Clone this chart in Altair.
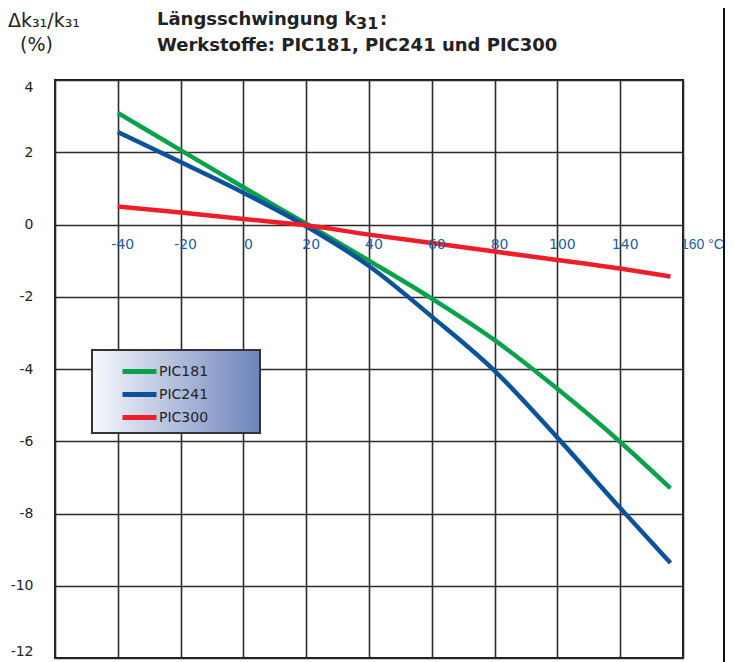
import altair as alt
import pandas as pd

# ---- data ----
temps = [-40, -20, 0, 20, 40, 60, 80, 100, 120, 136]
pic181 = [3.09, 2.06, 1.03, 0.02, -1.0, -2.05, -3.2, -4.55, -6.02, -7.3]
pic241 = [2.56, 1.73, 0.88, -0.05, -1.15, -2.55, -4.05, -5.9, -7.85, -9.37]
pic300 = [0.5, 0.33, 0.15, -0.02, -0.28, -0.51, -0.75, -0.98, -1.22, -1.44]
series = ["PIC181", "PIC241", "PIC300"]
colors = ["#0aa14b", "#0b529c", "#ee1d2a"]

x_grid = [-60, -40, -20, 0, 20, 40, 60, 80, 100, 120, 140]
x_tick_vals = [-40, -20, 0, 20, 40, 60, 80, 100, 120]
x_tick_labels = ["-40", "-20", "0", "20", "40", "60", "80", "100", "140"]
x_last_val = [140]
x_last_label = ["160 °C"]
y_grid = list(range(-12, 5))

rows = []
for name, vals in zip(series, [pic181, pic241, pic300]):
    for t, v in zip(temps, vals):
        rows.append({"T": t, "k": v, "Werkstoff": name})
df = pd.DataFrame(rows)

W, H = 628, 578
xs = alt.Scale(domain=[-60, 140], nice=False, zero=False)
ys = alt.Scale(domain=[-12, 4], nice=False, zero=False)
GRID = "#2b2b2b"
FONT = "DejaVu Sans"

one = alt.Data(values=[{}])

legend_box = alt.Chart(one).mark_rect(
    stroke="#333333", strokeWidth=2,
    fill=alt.LinearGradient(
        gradient="linear", x1=0, x2=1, y1=0, y2=0,
        stops=[alt.GradientStop(offset=0, color="#f7f8fc"),
               alt.GradientStop(offset=1, color="#6c84bb")])
).encode(x=alt.value(37), x2=alt.value(205), y=alt.value(270), y2=alt.value(353))

lines = alt.Chart(df).mark_line(strokeWidth=4.5, interpolate="monotone").encode(
    x=alt.X("T:Q", scale=xs, axis=alt.Axis(values=x_grid, labels=False, ticks=False, domain=False,
                                           grid=True, gridColor=GRID, gridWidth=1.6, title=None)),
    y=alt.Y("k:Q", scale=ys, axis=alt.Axis(values=y_grid, ticks=False, domain=False, grid=True,
                                           gridColor=GRID, gridWidth=1.6, title=None,
                                           labelExpr="datum.value % 2 == 0 ? '' + datum.value : ''",
                                           labelFont=FONT, labelFontSize=14, labelColor="#222222",
                                           labelPadding=22, labelFlush=True)),
    color=alt.Color("Werkstoff:N", scale=alt.Scale(domain=series, range=colors),
                    legend=alt.Legend(orient="none", legendX=72, legendY=279, title=None,
                                      symbolType="M-1.7,0H1.7", symbolSize=400, symbolStrokeWidth=5,
                                      labelFont=FONT, labelFontSize=14, labelColor="#222222",
                                      labelOffset=7, rowPadding=-3, padding=0)),
)

xlab_df = pd.DataFrame({"T": x_tick_vals, "lab": x_tick_labels, "k": [0] * len(x_tick_vals)})
xlab = alt.Chart(xlab_df).mark_text(font=FONT, fontSize=14, color="#1b5ea8", baseline="middle",
                                    align="center", dx=5, dy=20).encode(
    x=alt.X("T:Q", scale=xs), y=alt.Y("k:Q", scale=ys), text="lab:N")
xlast_df = pd.DataFrame({"T": x_last_val, "lab": x_last_label, "k": [0]})
xlast = alt.Chart(xlast_df).mark_text(font="Liberation Sans", fontSize=14, color="#1b5ea8",
                                      baseline="middle", align="left", dx=-2, dy=20).encode(
    x=alt.X("T:Q", scale=xs), y=alt.Y("k:Q", scale=ys), text="lab:N")


def txt(s, x, y, size=16, bold=False, align="left"):
    return alt.Chart(one).mark_text(text=s, font=FONT, fontSize=size,
                                    fontWeight="bold" if bold else "normal",
                                    color="#222222", align=align, baseline="alphabetic").encode(
        x=alt.value(x), y=alt.value(y))


titles = [
    txt("Δk₃₁/k₃₁", -47, -53, 19),
    txt("(%)", -35, -29, 19),
    txt("Längsschwingung k", 102, -55, 18, True),
    txt("31", 301, -51, 16, True),
    txt(":", 325, -55, 18, True),
    txt("Werkstoffe: PIC181, PIC241 und PIC300", 102, -29, 18, True),
]

side_rule = alt.Chart(one).mark_rule(color="#111111", strokeWidth=2).encode(
    x=alt.value(669), y=alt.value(-72), y2=alt.value(H + 4))

chart = alt.layer(lines, legend_box, xlab, xlast, side_rule, *titles).properties(
    width=W, height=H,
    autosize=alt.AutoSizeParams(type="none"),
    padding={"left": 47, "top": 72, "right": 43, "bottom": 4},
).configure_view(stroke="#1a1a1a", strokeWidth=2)

chart.save("out.html", embed_options={"renderer": "svg", "actions": False})
